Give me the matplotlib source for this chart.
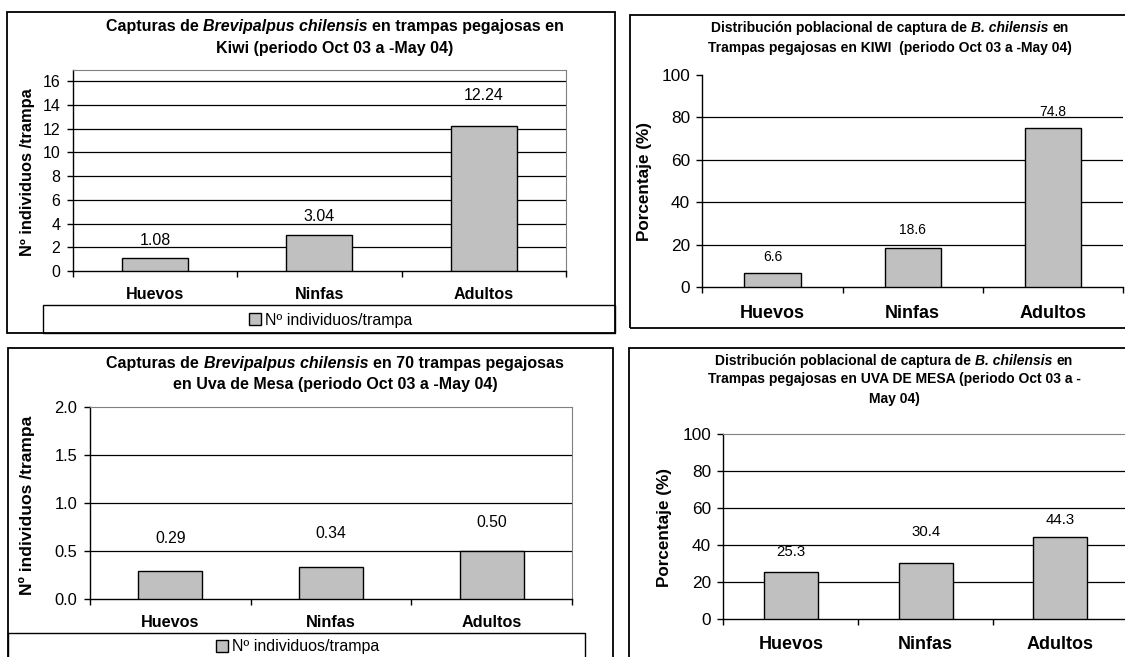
import matplotlib
matplotlib.use('Agg')
import matplotlib.pyplot as plt
from matplotlib.patches import Rectangle
from matplotlib.ticker import FormatStrFormatter

plt.rcParams['font.family'] = ['Liberation Sans', 'DejaVu Sans']

# data
cats = ['Huevos', 'Ninfas', 'Adultos']
kiwi_count = [1.08, 3.04, 12.24]
kiwi_pct = [6.6, 18.6, 74.8]
uva_count = [0.29, 0.34, 0.50]
uva_pct = [25.3, 30.4, 44.3]
legend_label = 'Nº individuos/trampa'

W, H = 1125, 657
fig = plt.figure(figsize=(W / 100, H / 100), dpi=100)
fig.patch.set_facecolor('white')


def axes_px(l, t, r, b):
    return fig.add_axes([l / W, 1 - b / H, (r - l) / W, (b - t) / H])


def box_px(l, t, r, b, lw=1.3):
    fig.add_artist(Rectangle((l / W, 1 - b / H), (r - l) / W, (b - t) / H,
                             transform=fig.transFigure, fill=False,
                             edgecolor='black', lw=lw, clip_on=False))


def text_px(x, y, s, **kw):
    return fig.text(x / W, 1 - y / H, s, **kw)


def title_px(cx, cy, segs, fs):
    # one title line made of bold / bold-italic pieces, centred at cx
    r = fig.canvas.get_renderer()
    ts = [text_px(0, cy, s, fontsize=fs, weight='bold', style=st,
                  ha='left', va='center') for s, st in segs]
    ws = [t.get_window_extent(r).width for t in ts]
    sp = fs * 100 / 72 * 0.278
    x = cx - (sum(ws) + sp * (len(ws) - 1)) / 2
    for t, w in zip(ts, ws):
        t.set_x(x / W)
        x += w + sp


def bar_panel(ax, vals, top, ticks, tfmt, vfmt, offs, fs_tick, fs_val,
              fs_cat, cat_off, top_line=True, grid_top=False):
    bars = ax.bar(range(len(vals)), vals, width=0.4, color='#c0c0c0',
                  edgecolor='black', linewidth=1, zorder=3)
    ax.set_xlim(-0.5, len(vals) - 0.5)
    ax.set_ylim(0, top)
    ax.set_yticks(ticks)
    ax.yaxis.set_major_formatter(FormatStrFormatter(tfmt))
    grid = [t for t in ticks if 0 < t < top or (grid_top and t == top)]
    for t in grid:
        ax.axhline(t, color='black', lw=0.9, zorder=1)
    ax.set_xticks([i - 0.5 for i in range(len(vals) + 1)])
    ax.set_xticklabels([])
    ax.tick_params(axis='both', direction='out', length=4, width=1,
                   color='black')
    ax.tick_params(axis='y', labelsize=fs_tick, pad=5)
    for s in ('left', 'bottom'):
        ax.spines[s].set_color('black')
        ax.spines[s].set_linewidth(1)
    ax.spines['right'].set_color('#808080')
    ax.spines['top'].set_color('#808080')
    ax.spines['top'].set_visible(top_line)
    for i, (v, o) in enumerate(zip(vals, offs)):
        ax.annotate(vfmt.format(v), (i, v), xytext=(0, o),
                    textcoords='offset pixels', ha='center', va='center',
                    fontsize=fs_val)
    for i, c in enumerate(cats):
        ax.annotate(c, (i, 0), xytext=(0, -cat_off),
                    textcoords='offset pixels', ha='center', va='center',
                    fontsize=fs_cat, weight='bold', annotation_clip=False)
    return bars


# ---- top left: Kiwi count
box_px(7, 12, 615, 333)
ax1 = axes_px(72.7, 70, 566, 271)
b1 = bar_panel(ax1, kiwi_count, 16.95, list(range(0, 17, 2)), '%d', '{:.2f}',
               [17.5, 18.5, 30], 11.5, 11.5, 11.6, 24, grid_top=True)
ax1.spines['right'].set_visible(True)
title_px(335, 26.7, [('Capturas de', 'normal'), ('Brevipalpus chilensis', 'italic'),
                     ('en trampas pegajosas en', 'normal')], 11.5)
title_px(335, 48.3, [('Kiwi (periodo Oct 03 a -May 04)', 'normal')], 11.5)
text_px(27.7, 172.5, 'Nº individuos /trampa', rotation=90, fontsize=11.8,
        weight='bold', ha='center', va='center')
box_px(43, 305, 615, 333, lw=1)
fig.legend(handles=[b1], labels=[legend_label], loc='center',
           bbox_to_anchor=(331 / W, 1 - 320 / H), frameon=False, fontsize=11.5,
           handlelength=0.7, handleheight=0.7, handletextpad=0.3,
           borderpad=0, borderaxespad=0)

# ---- top right: Kiwi percentage
box_px(630, 15, 1135, 328)
ax2 = axes_px(702.4, 75, 1123, 287.3)
bar_panel(ax2, kiwi_pct, 100, list(range(0, 101, 20)), '%d', '{:.1f}',
          [16.6, 17.8, 16.8], 12.4, 10, 13, 26, top_line=False)
ax2.spines['right'].set_visible(False)
title_px(890, 28.3, [('Distribución poblacional de captura de', 'normal'),
                     ('B. chilensis', 'italic'), ('en', 'normal')], 10)
title_px(890, 47.7, [('Trampas pegajosas en KIWI  (periodo Oct 03 a -May 04)', 'normal')], 10)
text_px(645, 181.7, 'Porcentaje (%)', rotation=90, fontsize=12.3,
        weight='bold', ha='center', va='center')

# ---- bottom left: Uva de Mesa count
box_px(8, 348, 613, 665)
ax3 = axes_px(89.9, 406.7, 572.1, 599.3)
b3 = bar_panel(ax3, uva_count, 2.0, [0, 0.5, 1.0, 1.5, 2.0], '%.1f', '{:.2f}',
               [33, 32.6, 29], 11.9, 11.3, 11.7, 23.4)
title_px(335, 363.3, [('Capturas de', 'normal'), ('Brevipalpus chilensis', 'italic'),
                      ('en 70 trampas pegajosas', 'normal')], 11.5)
title_px(335, 384, [('en Uva de Mesa (periodo Oct 03 a -May 04)', 'normal')], 11.5)
text_px(26.8, 505.8, 'Nº individuos /trampa', rotation=90, fontsize=12.6,
        weight='bold', ha='center', va='center')
box_px(8, 633, 585, 665, lw=1)
fig.legend(handles=[b3], labels=[legend_label], loc='center',
           bbox_to_anchor=(298 / W, 1 - 647 / H), frameon=False, fontsize=11.5,
           handlelength=0.7, handleheight=0.7, handletextpad=0.3,
           borderpad=0, borderaxespad=0)

# ---- bottom right: Uva de Mesa percentage
box_px(629, 348, 1135, 665)
ax4 = axes_px(723.4, 434, 1127.8, 619.3)
bar_panel(ax4, uva_pct, 100, list(range(0, 101, 20)), '%d', '{:.1f}',
          [20.7, 31, 17], 12.4, 10.8, 13, 25.7)
ax4.spines['right'].set_visible(False)
title_px(894, 360.7, [('Distribución poblacional de captura de', 'normal'),
                      ('B. chilensis', 'italic'), ('en', 'normal')], 10)
title_px(894, 379.3, [('Trampas pegajosas en UVA DE MESA (periodo Oct 03 a -', 'normal')], 10)
title_px(894, 399.3, [('May 04)', 'normal')], 10)
text_px(664, 527.5, 'Porcentaje (%)', rotation=90, fontsize=12.3,
        weight='bold', ha='center', va='center')

fig.savefig('out.png', dpi=100)
